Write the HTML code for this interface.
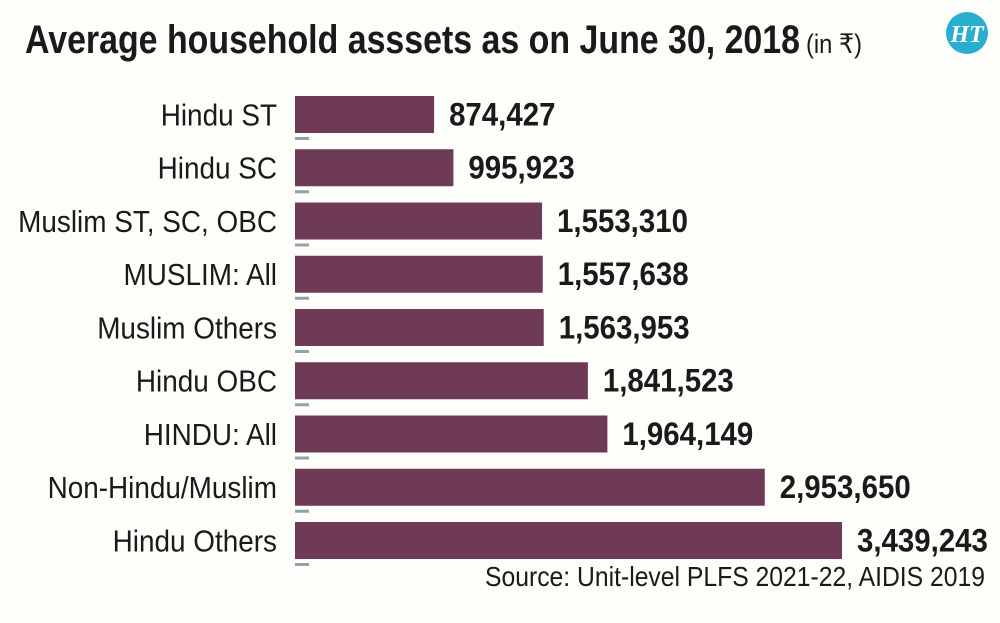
<!DOCTYPE html>
<html><head><meta charset="utf-8"><style>
html,body{margin:0;padding:0;background:#fdfdfa;}
svg{display:block;font-family:"Liberation Sans",sans-serif;}
</style></head><body>
<svg id="chart" width="1000" height="623" viewBox="0 0 1000 623">
<rect width="1000" height="623" fill="#fdfdfa"/>
<text x="25" y="53" font-size="40" font-weight="bold" fill="#1a1a1a" textLength="775" lengthAdjust="spacingAndGlyphs">Average household asssets as on June 30, 2018</text>
<text x="806" y="53" font-size="27" fill="#1a1a1a" textLength="56" lengthAdjust="spacingAndGlyphs">(in ₹)</text>
<g>
<circle cx="967" cy="33" r="21" fill="#2aaed0"/>
<text x="967" y="42" font-size="24" font-family="Liberation Serif,serif" font-style="italic" font-weight="bold" fill="#fff" text-anchor="middle">HT</text>
</g>
<g id="bars"></g>
<text x="985" y="586" font-size="28" fill="#1a1a1a" text-anchor="end" textLength="500" lengthAdjust="spacingAndGlyphs">Source: Unit-level PLFS 2021-22, AIDIS 2019</text>
</svg>
<script>
const categories = ["Hindu ST","Hindu SC","Muslim ST, SC, OBC","MUSLIM: All","Muslim Others","Hindu OBC","HINDU: All","Non-Hindu/Muslim","Hindu Others"];
const values = [874427,995923,1553310,1557638,1563953,1841523,1964149,2953650,3439243];
const valueLabels = ["874,427","995,923","1,553,310","1,557,638","1,563,953","1,841,523","1,964,149","2,953,650","3,439,243"];

const NS="http://www.w3.org/2000/svg";
const g=document.getElementById('bars');
const x0=295, xScale=v=>x0+v*(547/3439243);
const yTop=i=>96+i*53.25, barH=37, gap=15;
function mk(tag,attrs){const e=document.createElementNS(NS,tag);for(const k in attrs)e.setAttribute(k,attrs[k]);return e;}
categories.forEach((c,i)=>{
  const y=yTop(i);
  const r=mk('rect',{x:x0,y:y,width:xScale(values[i])-x0,height:barH,fill:'#6e3a55'});
  
  
  g.appendChild(r);
  const t=mk('rect',{x:x0,y:y+barH+4,width:14,height:3,fill:'#8fa3ad'});
  
  
  g.appendChild(t);
  const lab=mk('text',{x:277/0.9,y:y+barH/2+11,'font-size':31,fill:'#1a1a1a','text-anchor':'end',transform:'scale(0.9,1)'});
  lab.textContent=c;
  
  
  g.appendChild(lab);
  const vl=mk('text',{x:(xScale(values[i])+gap)/0.92,y:y+barH/2+11,'font-size':32,'font-weight':'bold',fill:'#1a1a1a',transform:'scale(0.92,1)'});
  vl.textContent=valueLabels[i];
  
  
  g.appendChild(vl);
});
</script>
</body></html>
